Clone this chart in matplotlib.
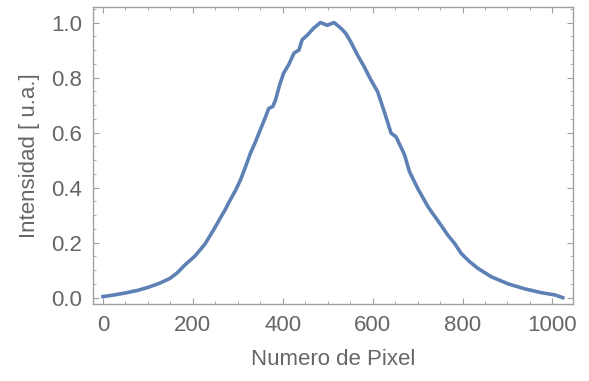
import matplotlib
matplotlib.use("Agg")
import matplotlib.pyplot as plt
from matplotlib.ticker import MultipleLocator

pixel = [0, 25, 52, 78, 101, 125, 149, 165, 183, 205, 227, 246, 261, 272,
         283, 295, 306, 317, 328, 339, 350, 360, 369, 378, 384, 393, 402,
         413, 425, 436, 443, 455, 469, 484, 499, 514, 529, 540, 551, 566,
         581, 596, 611, 622, 626, 641, 652, 671, 682, 700, 723, 741, 752,
         767, 782, 797, 815, 834, 864, 902, 939, 976, 1006, 1023]
intensidad = [0.004, 0.010, 0.018, 0.027, 0.038, 0.052, 0.070, 0.090, 0.120,
              0.152, 0.195, 0.246, 0.289, 0.320, 0.355, 0.390, 0.428, 0.475,
              0.525, 0.565, 0.610, 0.650, 0.688, 0.695, 0.719, 0.773, 0.816,
              0.846, 0.889, 0.900, 0.937, 0.955, 0.980, 1.000, 0.990, 1.000,
              0.980, 0.961, 0.931, 0.883, 0.840, 0.792, 0.749, 0.695, 0.676,
              0.598, 0.585, 0.519, 0.458, 0.398, 0.331, 0.289, 0.264, 0.228,
              0.198, 0.161, 0.132, 0.107, 0.076, 0.050, 0.032, 0.018, 0.010,
              0.000]

plt.rcParams['font.family'] = ['Liberation Sans', 'DejaVu Sans']

fig = plt.figure(figsize=(5.89, 3.81), dpi=100)
ax = fig.add_axes([0.158, 0.202, 0.815, 0.780])

ax.plot(pixel, intensidad, color='#5E81B5', linewidth=2.6)

ax.set_xlim(-22, 1046)
ax.set_ylim(-0.023, 1.057)
ax.xaxis.set_major_locator(MultipleLocator(200))
ax.xaxis.set_minor_locator(MultipleLocator(50))
ax.yaxis.set_major_locator(MultipleLocator(0.2))
ax.yaxis.set_minor_locator(MultipleLocator(0.05))
ax.yaxis.set_major_formatter(plt.FuncFormatter(lambda v, p: f"{v:.1f}"))

grey = '#666666'
for s in ax.spines.values():
    s.set_color('#a0a0a0')
    s.set_linewidth(1.0)
ax.tick_params(which='both', direction='in', top=True, right=True,
               color='#a0a0a0', labelcolor=grey, labelsize=16)
ax.tick_params(which='major', length=4.5, width=0.8, pad=8)
ax.tick_params(which='minor', length=2.5, width=0.6)

ax.set_xlabel('Numero de Pixel', fontsize=16, color=grey, labelpad=9)
ax.set_ylabel('Intensidad [ u.a.]', fontsize=16, color=grey, labelpad=8)

fig.savefig('out.png', dpi=100)
